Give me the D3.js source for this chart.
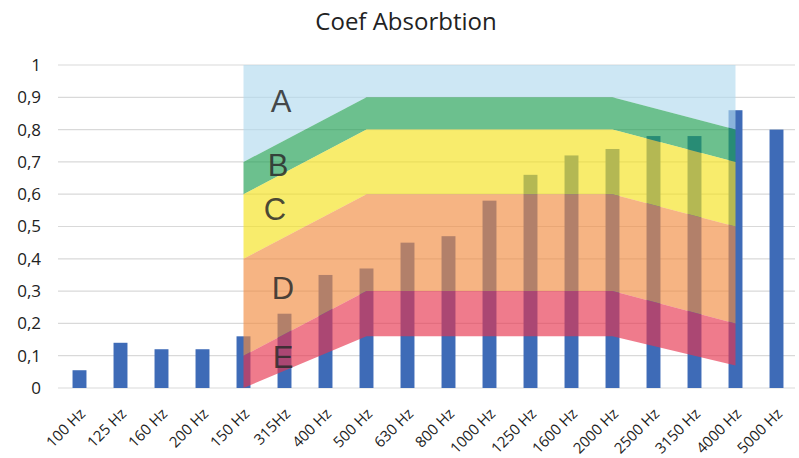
<!DOCTYPE html>
<html>
<head>
<meta charset="utf-8">
<script src="https://cdn.jsdelivr.net/npm/d3@7"></script>
<style>
    body { margin: 0; background: #fff; }
    text { font-family: "Open Sans", "Noto Sans", sans-serif; }
</style>
</head>
<body>
<div id="svg"></div>
<script>
// categories and bar values
var freqs = ["100 Hz", "125 Hz", "160 Hz", "200 Hz", "150 Hz", "315Hz", "400 Hz", "500 Hz", "630 Hz",
    "800 Hz", "1000 Hz", "1250 Hz", "1600 Hz", "2000 Hz", "2500 Hz", "3150 Hz", "4000 Hz", "5000 Hz"];
var coef = [0.055, 0.14, 0.12, 0.12, 0.16, 0.23, 0.35, 0.37, 0.45, 0.47, 0.58, 0.66, 0.72, 0.74, 0.78, 0.78, 0.86, 0.80];
var yTicks = [0, 0.1, 0.2, 0.3, 0.4, 0.5, 0.6, 0.7, 0.8, 0.9, 1];

// class zones: corners and upper limits of each band
var zoneFreqs = ["150 Hz", "500 Hz", "2000 Hz", "4000 Hz"];
var eLow = [0, 0.16, 0.16, 0.07];
var eHigh = [0.1, 0.3, 0.3, 0.2];
var dHigh = [0.4, 0.6, 0.6, 0.5];
var cHigh = [0.6, 0.8, 0.8, 0.7];
var bHigh = [0.7, 0.9, 0.9, 0.8];
var aHigh = [1, 1, 1, 1];

var zoneNames = ["A", "B", "C", "D", "E"];
var zoneLabelY = [0.89, 0.69, 0.555, 0.31, 0.095];

// set the dimensions and margins of the graph
var margin = {
        top: 65,
        right: 2,
        bottom: 70,
        left: 59
    },
    width = 799 - margin.left - margin.right,
    height = 458 - margin.top - margin.bottom;

// bands centred on equal steps
var x = d3.scaleBand()
    .domain(freqs)
    .range([0, width])
    .paddingInner(0.66)
    .paddingOuter(0.33);

var y = d3.scaleLinear()
    .domain([0, 1])
    .range([height, 0]);

function xc(f) {
    return x(f) + x.bandwidth() / 2;
}

var root = d3.select("#svg").append("svg")
    .attr("width", 799)
    .attr("height", 458);

root.append("text")
    .attr("x", 406)
    .attr("y", 30)
    .attr("text-anchor", "middle")
    .style("font-size", "24px")
    .style("fill", "#222")
    .text("Coef Absorbtion");

var svg = root.append("g")
    .attr("transform", "translate(" + margin.left + "," + margin.top + ")");

// gridlines + y labels
svg.selectAll(".grid")
    .data(yTicks)
    .enter().append("line")
    .attr("x1", -1)
    .attr("x2", width - 2)
    .attr("y1", function(d) { return y(d); })
    .attr("y2", function(d) { return y(d); })
    .style("stroke", "#d9d9d9")
    .style("stroke-width", 1.2);

svg.selectAll(".ylab")
    .data(yTicks)
    .enter().append("text")
    .attr("x", -18)
    .attr("y", function(d) { return y(d); })
    .attr("dy", ".35em")
    .attr("text-anchor", "end")
    .style("font-size", "17px")
    .style("fill", "#222")
    .text(function(d) { return d3.format(".1~f")(d).replace(".", ","); });

// bars
svg.selectAll(".bar")
    .data(freqs)
    .enter().append("rect")
    .attr("class", "bar")
    .attr("x", function(d) { return x(d); })
    .attr("width", x.bandwidth())
    .attr("y", function(d, i) { return y(coef[i]); })
    .attr("height", function(d, i) { return height - y(coef[i]); })
    .style("fill", "#3e6bb7");

// zones drawn over the bars, semi transparent
var zones = [
    { lo: bHigh, hi: aHigh, color: "rgb(178,218,238)" },
    { lo: cHigh, hi: bHigh, color: "rgb(29,158,81)" },
    { lo: dHigh, hi: cHigh, color: "rgb(244,226,29)" },
    { lo: eHigh, hi: dHigh, color: "rgb(241,140,64)" },
    { lo: eLow, hi: eHigh, color: "rgb(230,52,78)" }
];

var area = d3.area()
    .x(function(d) { return xc(d.f); })
    .y0(function(d) { return y(d.lo); })
    .y1(function(d) { return y(d.hi); });

svg.selectAll(".zone")
    .data(zones)
    .enter().append("path")
    .attr("d", function(z) {
        return area(zoneFreqs.map(function(f, i) {
            return { f: f, lo: z.lo[i], hi: z.hi[i] };
        }));
    })
    .style("fill", function(z) { return z.color; })
    .style("fill-opacity", 0.65);

// zone letters
svg.selectAll(".zlab")
    .data(zoneNames)
    .enter().append("text")
    .attr("x", function(d, i) { return xc("315Hz") - [3.5, 6.5, 9.5, 1.5, 1.5][i]; })
    .attr("y", function(d, i) { return y(zoneLabelY[i]); })
    .attr("dy", ".36em")
    .attr("text-anchor", "middle")
    .style("font-family", "Liberation Sans, Arial, sans-serif")
    .style("font-size", "31px")
    .style("fill", "#2b2b2b")
    .style("fill-opacity", 0.85)
    .text(function(d) { return d; });

// rotated x labels
svg.selectAll(".xlab")
    .data(freqs)
    .enter().append("text")
    .attr("transform", function(d) {
        return "translate(" + (xc(d) + 3) + "," + (height + 23) + ") rotate(-45)";
    })
    .attr("text-anchor", "end")
    .attr("dy", ".35em")
    .style("font-size", "15px")
    .style("fill", "#222")
    .text(function(d) { return d; });
</script>
</body>
</html>
